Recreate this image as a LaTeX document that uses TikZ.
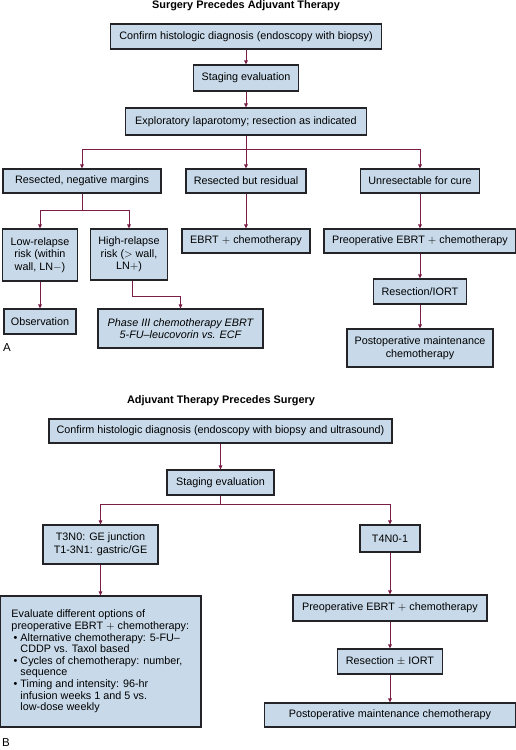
\documentclass[tikz,border=0pt]{standalone}
\usepackage{fontspec}
\setmainfont{Liberation Sans}
\usetikzlibrary{arrows.meta}
\definecolor{boxfill}{RGB}{200,218,234}
\definecolor{arrowc}{RGB}{122,30,72}
\definecolor{edge}{RGB}{35,35,40}
\tikzset{
  box/.style={draw=edge, line width=1.2pt, fill=boxfill, inner sep=1pt, align=center,
    font=\fontsize{10.8}{12.6}\selectfont},
  conn/.style={draw=arrowc, line width=0.9pt},
  arr/.style={conn, -{Triangle[length=4pt,width=3.6pt]}},
  ttl/.style={font=\bfseries\fontsize{10.9}{12}\selectfont},
  lbl/.style={font=\fontsize{11.5}{13}\selectfont}
}
\begin{document}
\begin{tikzpicture}[x=1pt,y=-1pt]
\useasboundingbox (0,0) rectangle (516,750);
% ---------- Part A ----------
\node[ttl] (ta) at (246,6) {Surgery Precedes Adjuvant Therapy};
\node[box, minimum width=271pt, minimum height=25pt] (a1) at (246,36.5) {Confirm histologic diagnosis (endoscopy with biopsy)};
\node[box, minimum width=105pt, minimum height=26pt] (a2) at (246,78) {Staging evaluation};
\node[box, minimum width=241pt, minimum height=27pt] (a3) at (246,121.5) {Exploratory laparotomy; resection as indicated};
\node[box, minimum width=158pt, minimum height=24pt] (a4) at (82,181) {Resected, negative margins};
\node[box, minimum width=120pt, minimum height=24pt] (a5) at (246,181) {Resected but residual};
\node[box, minimum width=119pt, minimum height=24pt] (a6) at (420,181) {Unresectable for cure};
\node[box, minimum width=75pt, minimum height=52pt] (a7) at (40,255) {Low-relapse\\risk (within\\wall, LN$-$)};
\node[box, minimum width=77pt, minimum height=51pt] (a8) at (129,254.5) {High-relapse\\risk ($>$ wall,\\LN$+$)};
\node[box, minimum width=128pt, minimum height=24pt] (a9) at (246,241) {EBRT $+$ chemotherapy};
\node[box, minimum width=192pt, minimum height=24pt] (a10) at (420,241) {Preoperative EBRT $+$ chemotherapy};
\node[box, minimum width=93pt, minimum height=25pt] (a11) at (420,291.5) {Resection/IORT};
\node[box, minimum width=146pt, minimum height=38pt] (a12) at (420,348) {Postoperative maintenance\\chemotherapy};
\node[box, minimum width=72pt, minimum height=25pt] (a13) at (40,321.5) {Observation};
\node[box, minimum width=165pt, minimum height=39pt, font=\itshape\fontsize{10.8}{12.6}\selectfont] (a14) at (180.5,328.5) {Phase III chemotherapy EBRT\\5-FU--leucovorin vs. ECF};
\node[lbl] (la) at (7,348) {A};
\coordinate (ja) at (246,149);
\coordinate (jb) at (82,210);
\coordinate (jc) at (132,296);
\draw[arr] (a1) -- (a2);
\draw[arr] (a2) -- (a3);
\draw[conn] (a3) -- (ja);
\draw[arr] (ja) -| (a4);
\draw[arr] (ja) -- (a5);
\draw[arr] (ja) -| (a6);
\draw[conn] (a4) -- (jb);
\draw[arr] (jb) -| (a7);
\draw[arr] (jb) -| (a8);
\draw[arr] (a5) -- (a9);
\draw[arr] (a6) -- (a10);
\draw[arr] (a10) -- (a11);
\draw[arr] (a11) -- (a12);
\draw[arr] (a7) -- (a13);
\draw[conn] (a8.south -| jc) -- (jc);
\draw[arr] (jc) -| (a14);
% ---------- Part B ----------
\node[ttl] (tb) at (221,401) {Adjuvant Therapy Precedes Surgery};
\node[box, minimum width=343pt, minimum height=24pt] (b1) at (220.5,431) {Confirm histologic diagnosis (endoscopy with biopsy and ultrasound)};
\node[box, minimum width=107pt, minimum height=25pt] (b2) at (220.5,482.5) {Staging evaluation};
\node[box, minimum width=115pt, minimum height=39pt] (b3) at (100.5,544.5) {T3N0: GE junction\\T1-3N1: gastric/GE};
\node[box, minimum width=60pt, minimum height=27pt] (b4) at (390,538.5) {T4N0-1};
\node[box, minimum width=201pt, minimum height=131pt, align=left] (b5) at (100.5,661.5) {%
\begin{minipage}{194pt}\hspace*{8pt}\begin{minipage}{186pt}\fontsize{10.8}{11.6}\selectfont
Evaluate different options of\\
preoperative EBRT $+$ chemotherapy:
\begin{list}{\textbullet}{\leftmargin=9pt\labelwidth=5pt\labelsep=3pt\itemsep=0pt\parsep=0pt\topsep=0pt\partopsep=0pt}
\item Alternative chemotherapy: 5-FU--\\CDDP vs. Taxol based
\item Cycles of chemotherapy: number,\\sequence
\item Timing and intensity: 96-hr\\infusion weeks 1 and 5 vs.\\low-dose weekly
\end{list}
\end{minipage}\end{minipage}};
\node[box, minimum width=194pt, minimum height=26pt] (b6) at (390,608) {Preoperative EBRT $+$ chemotherapy};
\node[box, minimum width=105pt, minimum height=25pt] (b7) at (390,661.5) {Resection $\pm$ IORT};
\node[box, minimum width=251pt, minimum height=24pt] (b8) at (390,715) {Postoperative maintenance chemotherapy};
\node[lbl] (lb) at (6,743) {B};
\coordinate (jd) at (220.5,504);
\draw[arr] (b1) -- (b2);
\draw[conn] (b2) -- (jd);
\draw[arr] (jd) -| (b3);
\draw[arr] (jd) -| (b4);
\draw[arr] (b3) -- (b5);
\draw[arr] (b4) -- (b6);
\draw[arr] (b6) -- (b7);
\draw[arr] (b7) -- (b8);
\end{tikzpicture}
\end{document}
